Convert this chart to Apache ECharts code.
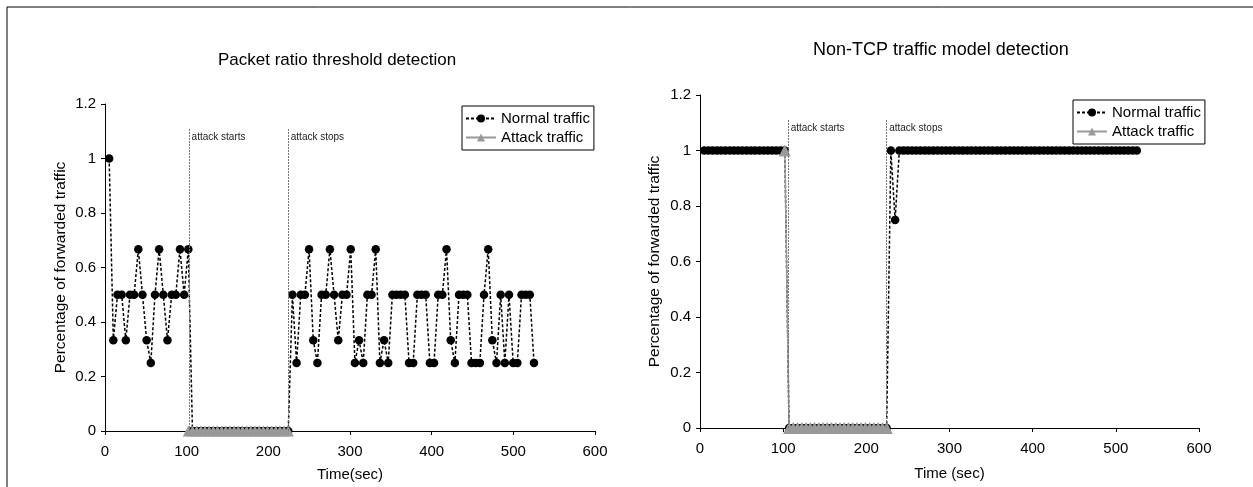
<!DOCTYPE html>
<html>
<head>
<meta charset="utf-8">
<script src="https://cdn.jsdelivr.net/npm/echarts@6/dist/echarts.min.js"></script>
<style>
  html, body { margin: 0; padding: 0; background: #fff; }
  #chart { width: 1253px; height: 487px; }
</style>
</head>
<body>
<div id="chart"></div>
<script>
// sample times (sec), one every ~5.1 s
const timeSec = [
  5.1, 10.2, 15.3, 20.4, 25.5, 30.6, 35.7, 40.8, 45.9, 51, 56.1, 61.2, 66.3, 71.4, 76.5, 81.6, 86.7, 91.8, 96.9, 102,
  107.1, 112.2, 117.3, 122.4, 127.5, 132.6, 137.7, 142.8, 147.9, 153, 158.1, 163.2, 168.3, 173.4, 178.5, 183.6,
  188.7, 193.8, 198.9, 204, 209.1, 214.2, 219.3, 224.4,
  229.5, 234.6, 239.7, 244.8, 249.9, 255, 260.1, 265.2, 270.3, 275.4, 280.5, 285.6, 290.7, 295.8, 300.9, 306,
  311.1, 316.2, 321.3, 326.4, 331.5, 336.6, 341.7, 346.8, 351.9, 357, 362.1, 367.2, 372.3, 377.4, 382.5, 387.6,
  392.7, 397.8, 402.9, 408, 413.1, 418.2, 423.3, 428.4, 433.5, 438.6, 443.7, 448.8, 453.9, 459, 464.1, 469.2,
  474.3, 479.4, 484.5, 489.6, 494.7, 499.8, 504.9, 510, 515.1, 520.2, 525.3
];

// packet ratio threshold detection - normal traffic
const ratioNormal = [
  1, 0.333, 0.5, 0.5, 0.333, 0.5, 0.5, 0.667, 0.5, 0.333, 0.25, 0.5, 0.667, 0.5, 0.333, 0.5, 0.5, 0.667, 0.5, 0.667,
  0, 0, 0, 0, 0, 0, 0, 0, 0, 0, 0, 0, 0, 0, 0, 0, 0, 0, 0, 0, 0, 0, 0, 0,
  0.5, 0.25, 0.5, 0.5, 0.667, 0.333, 0.25, 0.5, 0.5, 0.667, 0.5, 0.333, 0.5, 0.5, 0.667, 0.25, 0.333, 0.25,
  0.5, 0.5, 0.667, 0.25, 0.333, 0.25, 0.5, 0.5, 0.5, 0.5, 0.25, 0.25, 0.5, 0.5, 0.5, 0.25, 0.25, 0.5,
  0.5, 0.667, 0.333, 0.25, 0.5, 0.5, 0.5, 0.25, 0.25, 0.25, 0.5, 0.667, 0.333, 0.25, 0.5, 0.25, 0.5, 0.25,
  0.25, 0.5, 0.5, 0.5, 0.25
];

// non-TCP traffic model detection - normal traffic
const modelNormal = [
  1, 1, 1, 1, 1, 1, 1, 1, 1, 1, 1, 1, 1, 1, 1, 1, 1, 1, 1, 1,
  0, 0, 0, 0, 0, 0, 0, 0, 0, 0, 0, 0, 0, 0, 0, 0, 0, 0, 0, 0, 0, 0, 0, 0,
  1, 0.75, 1, 1, 1, 1, 1, 1, 1, 1, 1, 1, 1, 1, 1, 1, 1, 1, 1, 1, 1, 1, 1, 1, 1, 1, 1, 1, 1, 1,
  1, 1, 1, 1, 1, 1, 1, 1, 1, 1, 1, 1, 1, 1, 1, 1, 1, 1, 1, 1, 1, 1, 1, 1, 1, 1, 1, 1, 1
];

// attack traffic, sampled from 102 s to 224.4 s
const attackTimeSec = timeSec.slice(19, 44);
const ratioAttack = [0, 0, 0, 0, 0, 0, 0, 0, 0, 0, 0, 0, 0, 0, 0, 0, 0, 0, 0, 0, 0, 0, 0, 0, 0];
const modelAttack = [1, 0, 0, 0, 0, 0, 0, 0, 0, 0, 0, 0, 0, 0, 0, 0, 0, 0, 0, 0, 0, 0, 0, 0, 0];

// attack start / stop markers (sec)
const ratioMarkers = [103, 224.4];
const modelMarkers = [106, 224.4];
const markerLabels = ['attack starts', 'attack stops'];
const markerTop = 1.11;

const font = "'Liberation Sans', Arial, sans-serif";

const zip = (xs, ys) => xs.map((x, i) => [x, ys[i]]);

function markers(times) {
  return {
    markLine: {
      silent: true,
      symbol: 'none',
      label: { show: false },
      lineStyle: { color: '#777', width: 1, type: [2, 1] },
      data: times.map(t => [{ coord: [t, 0] }, { coord: [t, markerTop] }])
    },
    markPoint: {
      silent: true,
      symbol: 'rect',
      symbolSize: 1,
      itemStyle: { color: 'transparent' },
      label: {
        show: true,
        formatter: '{b}',
        position: [3, 4],
        fontSize: 10,
        fontFamily: font,
        color: '#222'
      },
      data: times.map((t, i) => ({ coord: [t, markerTop], name: markerLabels[i] }))
    }
  };
}

function normalSeries(idx, values, times) {
  return Object.assign({
    name: 'Normal traffic',
    type: 'line',
    xAxisIndex: idx,
    yAxisIndex: idx,
    data: zip(timeSec, values),
    symbol: 'circle',
    symbolSize: 8.5,
    showAllSymbol: true,
    clip: false,
    itemStyle: { color: '#000' },
    lineStyle: { color: '#000', width: 1.5, type: [3, 2] },
    z: 2
  }, markers(times));
}

function attackSeries(idx, values, size) {
  return {
    name: 'Attack traffic',
    type: 'line',
    xAxisIndex: idx,
    yAxisIndex: idx,
    data: zip(attackTimeSec, values),
    symbol: 'triangle',
    symbolSize: size,
    showAllSymbol: true,
    clip: false,
    itemStyle: { color: '#999' },
    lineStyle: { color: '#999', width: 1.5 },
    z: 3
  };
}

function xAxis(idx, name, gap) {
  return {
    type: 'value',
    gridIndex: idx,
    min: 0,
    max: 600,
    interval: 100,
    name: name,
    nameLocation: 'middle',
    nameGap: gap,
    nameTextStyle: { fontSize: 15, fontFamily: font, color: '#000' },
    axisLine: { show: true, lineStyle: { color: '#000', width: 1 } },
    axisTick: { show: true, length: 4, lineStyle: { color: '#000' } },
    axisLabel: { fontSize: 15, fontFamily: font, color: '#000', margin: 13 },
    splitLine: { show: false }
  };
}

function yAxis(idx, gap) {
  return {
    type: 'value',
    gridIndex: idx,
    min: 0,
    max: 1.2,
    interval: 0.2,
    name: 'Percentage of forwarded traffic',
    nameLocation: 'middle',
    nameGap: gap,
    nameTextStyle: { fontSize: 15.5, fontFamily: font, color: '#000' },
    axisLine: { show: true, lineStyle: { color: '#000', width: 1 } },
    axisTick: { show: true, length: 4, lineStyle: { color: '#000' } },
    axisLabel: { fontSize: 15, fontFamily: font, color: '#000', margin: 9 },
    splitLine: { show: false }
  };
}

function legend(left, top) {
  return {
    data: ['Normal traffic', 'Attack traffic'],
    orient: 'vertical',
    left: left,
    top: top,
    itemWidth: 30,
    itemHeight: 10,
    itemGap: 4,
    padding: [5, 4, 5, 3],
    borderColor: '#000',
    borderWidth: 1,
    backgroundColor: '#fff',
    textStyle: { fontSize: 15, fontFamily: font, color: '#000' }
  };
}

const chart = echarts.init(document.getElementById('chart'));

chart.setOption({
  animation: false,
  backgroundColor: '#fff',
  graphic: [{
    type: 'rect',
    shape: { x: 7, y: 7, width: 1300, height: 600 },
    style: { fill: 'none', stroke: '#000', lineWidth: 1 },
    silent: true,
    z: -10
  }],
  title: [
    {
      text: 'Packet ratio threshold detection',
      left: 218, top: 52, padding: 0,
      textStyle: { fontSize: 17, fontWeight: 'normal', fontFamily: font, color: '#000' }
    },
    {
      text: 'Non-TCP traffic model detection',
      left: 813, top: 41, padding: 0,
      textStyle: { fontSize: 18, fontWeight: 'normal', fontFamily: font, color: '#000' }
    }
  ],
  legend: [legend(462, 106), legend(1073, 100)],
  grid: [
    { left: 105, top: 104, width: 490, height: 330 },
    { left: 700, top: 95, width: 499, height: 333 }
  ],
  xAxis: [xAxis(0, 'Time(sec)', 36), xAxis(1, 'Time (sec)', 38)],
  yAxis: [yAxis(0, 36), yAxis(1, 37)],
  series: [
    normalSeries(0, ratioNormal, ratioMarkers),
    attackSeries(0, ratioAttack, 11),
    normalSeries(1, modelNormal, modelMarkers),
    attackSeries(1, modelAttack, 12)
  ]
});

window.addEventListener('resize', () => chart.resize());
</script>
</body>
</html>
